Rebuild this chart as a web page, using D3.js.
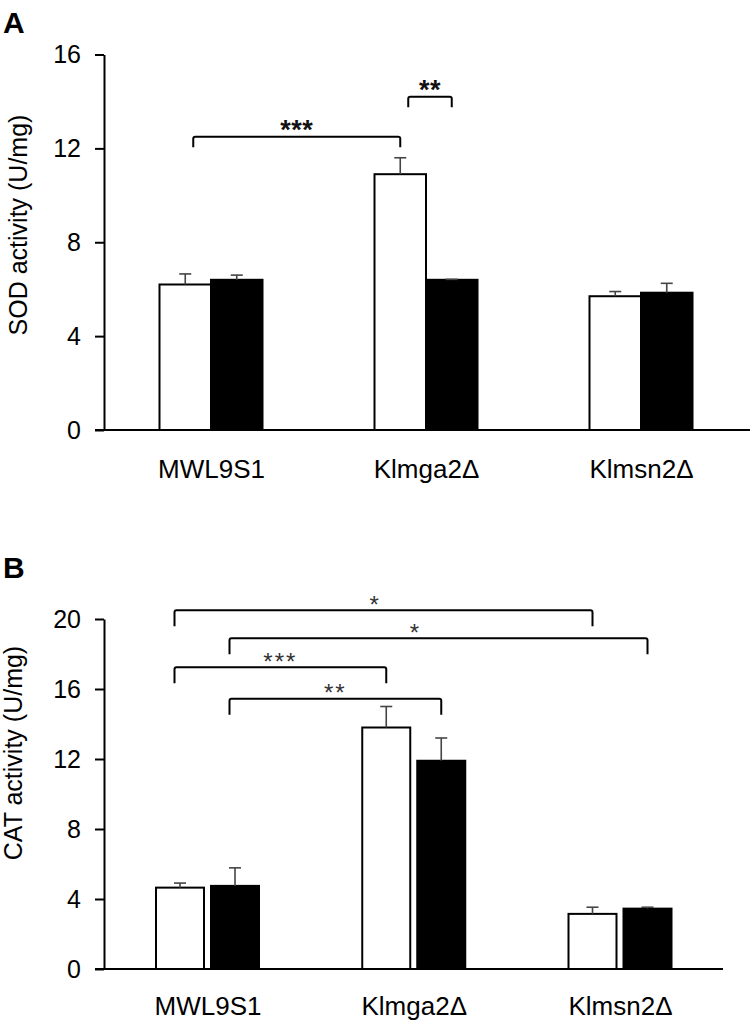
<!DOCTYPE html>
<html>
<head>
<meta charset="utf-8">
<script src="https://cdn.jsdelivr.net/npm/d3@7"></script>
<style>
  html, body { margin: 0; padding: 0; background: #fff; }
  svg { display: block; }
  text { font-family: "Liberation Sans", Arial, sans-serif; fill: #000; }
</style>
</head>
<body>
<div id="chart"></div>
<script>
// ---------- DATA ----------
const categories = ["MWL9S1", "Klmga2Δ", "Klmsn2Δ"];

// Panel A: SOD activity (U/mg)
const sodWhite    = [6.2, 10.9, 5.7];
const sodWhiteErr = [0.45, 0.7, 0.2];
const sodBlack    = [6.4, 6.4, 5.85];
const sodBlackErr = [0.2, 0.02, 0.4];
const sodTicks    = [0, 4, 8, 12, 16];
// brackets: [group, series] endpoints, bar height (data units), label
const sodBrackets = [
  { from: [0, 0], to: [1, 0], level: 12.5, label: "***", at: 0.5 },
  { from: [1, 0], to: [1, 1], level: 14.2, label: "**", at: 0.5 }
];

// Panel B: CAT activity (U/mg)
const catWhite    = [4.65, 13.8, 3.15];
const catWhiteErr = [0.26, 1.2, 0.38];
const catBlack    = [4.75, 11.9, 3.45];
const catBlackErr = [1.03, 1.3, 0.08];
const catTicks    = [0, 4, 8, 12, 16, 20];
const catBrackets = [
  { from: [0, 0], to: [2, 0], level: 20.5,  label: "*",   at: 0.48 },
  { from: [0, 1], to: [2, 1], level: 18.9,  label: "*",   at: 0.445 },
  { from: [0, 0], to: [1, 0], level: 17.25, label: "***", at: 0.5 },
  { from: [0, 1], to: [1, 1], level: 15.45, label: "**",  at: 0.5 }
];

// ---------- LAYOUT ----------
const W = 750, H = 1021;
const svg = d3.select("#chart").append("svg")
  .attr("width", W).attr("height", H).attr("viewBox", `0 0 ${W} ${H}`);

const panels = [
  {
    letter: "A", letterY: 33,
    title: "SOD activity (U/mg)", titleX: 26.5, titleY: 225,
    top: 54.5, bottom: 430, axisX: 104, axisEnd: 750,
    centers: [211, 641], barW: 51.5, gap: 0,
    legPx: 10.5, leftNudge: 8, starFont: 27, starSpacing: 0.5, starOffset: 13.5, starColor: "#111", starWeight: "bold",
    labelDy: 48,
    white: sodWhite, whiteErr: sodWhiteErr, black: sodBlack, blackErr: sodBlackErr,
    ticks: sodTicks, brackets: sodBrackets
  },
  {
    letter: "B", letterY: 578,
    title: "CAT activity (U/mg)", titleX: 22, titleY: 753,
    top: 619, bottom: 969, axisX: 104, axisEnd: 723,
    centers: [207.5, 620], barW: 48, gap: 7,
    legPx: 16, leftNudge: -5.5, starFont: 24, starSpacing: 2, starOffset: 11.5, starColor: "#333", starWeight: "normal",
    labelDy: 46,
    white: catWhite, whiteErr: catWhiteErr, black: catBlack, blackErr: catBlackErr,
    ticks: catTicks, brackets: catBrackets
  }
];

panels.forEach(cfg => {
  const g = svg.append("g");
  const y = d3.scaleLinear().domain([0, d3.max(cfg.ticks)]).range([cfg.bottom, cfg.top]);
  const x = d3.scalePoint().domain(categories).range(cfg.centers);

  const series = [
    { vals: cfg.white, err: cfg.whiteErr, fill: "#fff" },
    { vals: cfg.black, err: cfg.blackErr, fill: "#000" }
  ];
  const barX = (i, s) => x(categories[i]) + (s === 0 ? -cfg.gap / 2 - cfg.barW : cfg.gap / 2);
  const barC = (i, s) => barX(i, s) + cfg.barW / 2;

  // Panel letter
  g.append("text").attr("x", 3).attr("y", cfg.letterY)
    .attr("font-size", 30).attr("font-weight", "bold").text(cfg.letter);

  // Y axis title
  g.append("text")
    .attr("transform", `translate(${cfg.titleX},${cfg.titleY}) rotate(-90)`)
    .attr("text-anchor", "middle").attr("font-size", 25).text(cfg.title);

  // Y axis
  const yAxis = g.append("g").attr("transform", `translate(${cfg.axisX},0)`)
    .call(d3.axisLeft(y).tickValues(cfg.ticks).tickSize(9).tickSizeOuter(0).tickPadding(14));
  yAxis.select(".domain").attr("stroke", "#000").attr("stroke-width", 2);
  yAxis.selectAll(".tick line").attr("stroke", "#000").attr("stroke-width", 2);
  yAxis.selectAll(".tick text").attr("font-size", 25).attr("font-family", "Liberation Sans, Arial, sans-serif").attr("fill", "#000");

  // Bars
  series.forEach((s, si) => {
    g.append("g").selectAll("rect").data(s.vals).join("rect")
      .attr("x", (d, i) => barX(i, si))
      .attr("y", d => y(d))
      .attr("width", cfg.barW)
      .attr("height", d => y(0) - y(d))
      .attr("fill", s.fill)
      .attr("stroke", "#000").attr("stroke-width", 2);
  });

  // Error bars (upper only)
  series.forEach((s, si) => {
    const eg = g.append("g").attr("stroke", "#444").attr("stroke-width", 1.6);
    s.vals.forEach((v, i) => {
      const cx = barC(i, si);
      eg.append("line").attr("x1", cx).attr("x2", cx).attr("y1", y(v)).attr("y2", y(v + s.err[i]));
      eg.append("line").attr("x1", cx - 6).attr("x2", cx + 6).attr("y1", y(v + s.err[i])).attr("y2", y(v + s.err[i]));
    });
  });

  // X axis line
  g.append("line").attr("x1", cfg.axisX - 9).attr("x2", cfg.axisEnd)
    .attr("y1", y(0)).attr("y2", y(0)).attr("stroke", "#000").attr("stroke-width", 2);

  // X labels
  const xAxis = g.append("g").attr("transform", `translate(0,${y(0)})`)
    .call(d3.axisBottom(x).tickSize(0));
  xAxis.select(".domain").remove();
  xAxis.selectAll(".tick text").attr("y", cfg.labelDy).attr("dy", 0)
    .attr("font-size", 26).attr("font-family", "Liberation Sans, Arial, sans-serif").attr("fill", "#000");

  // Significance brackets
  cfg.brackets.forEach(b => {
    const x1 = barC(b.from[0], b.from[1]) + cfg.leftNudge;
    const x2 = barC(b.to[0], b.to[1]);
    const yl = y(b.level);
    g.append("path")
      .attr("d", `M${x1},${yl + cfg.legPx} L${x1},${yl + 2} Q${x1},${yl} ${x1 + 2},${yl} L${x2 - 2},${yl} Q${x2},${yl} ${x2},${yl + 2} L${x2},${yl + cfg.legPx}`)
      .attr("fill", "none").attr("stroke", "#000").attr("stroke-width", 2);
    g.append("text")
      .attr("x", x1 + (x2 - x1) * b.at)
      .attr("y", yl - cfg.starOffset + 0.58 * cfg.starFont)
      .attr("text-anchor", "middle")
      .attr("font-size", cfg.starFont)
      .attr("font-weight", cfg.starWeight)
      .attr("letter-spacing", cfg.starSpacing)
      .style("fill", cfg.starColor)
      .text(b.label);
  });
});
</script>
</body>
</html>
